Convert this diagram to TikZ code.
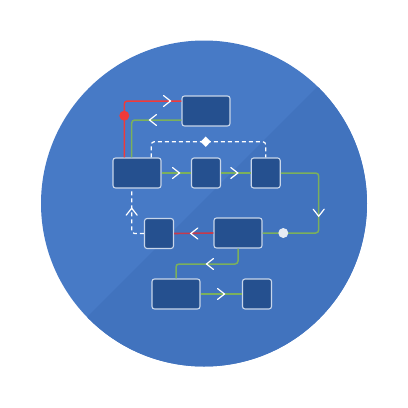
\documentclass[tikz,border=0pt]{standalone}
\usetikzlibrary{calc}
\definecolor{bglight}{HTML}{477AC6}
\definecolor{bgdark}{HTML}{4173BE}
\definecolor{boxfill}{HTML}{25508F}
\definecolor{boxline}{HTML}{C8D6EA}
\definecolor{redA}{HTML}{F03A3A}
\definecolor{redB}{HTML}{C63A4C}
\definecolor{greenl}{HTML}{7BB05C}
\definecolor{dotc}{HTML}{E6EBF2}
\tikzset{
  boxw/.style={draw=boxline, fill=boxfill, line width=1.1pt, rounded corners=2.5pt, minimum width=48pt, minimum height=30pt, inner sep=0pt},
  boxs/.style={boxw, minimum width=29pt},
  gline/.style={draw=greenl, line width=1.5pt, rounded corners=3pt},
  rline/.style={draw=redA, line width=1.5pt, rounded corners=3pt},
  rline2/.style={draw=redB, line width=1.6pt},
  dline/.style={draw=white, line width=1.2pt, dash pattern=on 4pt off 3pt, rounded corners=3pt},
  dotstyle/.style={circle, minimum size=10pt, inner sep=0pt},
  chev/.pic={\draw[white, line width=1.2pt, line cap=round, line join=miter] (-3.5,-5.5) -- (3.5,0) -- (-3.5,5.5);}
}
\begin{document}
\begin{tikzpicture}[x=1pt, y=-1pt]
\useasboundingbox (0,0) rectangle (408,408);
% background disk
\fill[bglight] (204,203.5) circle (163);
\begin{scope}
  \clip (204,203.5) circle (163);
  \fill[bgdark] (404,0) -- (500,0) -- (500,500) -- (0,500) -- (0,404) -- cycle;
\end{scope}
% boxes
\node[boxw] (T) at (206,111) {};
\node[boxw] (A) at (137,173) {};
\node[boxs] (B) at (206,173) {};
\node[boxs] (C) at (265.7,173) {};
\node[boxs] (D) at (159,233.5) {};
\node[boxw] (E) at (238,233) {};
\node[boxw] (F) at (176,294) {};
\node[boxs] (G) at (257,294) {};
% helper coordinates
\coordinate (rt) at (124.3,101);
\coordinate (gt) at (131.7,120);
\coordinate (dl) at (151.3,141.7);
\coordinate (cr) at (318.7,233);
\coordinate (dx) at (131.7,233.5);
\coordinate (ef) at (175.7,264);
\coordinate (dm) at (205.7,141.7);
% connectors
\draw[rline] (A.north -| rt) |- (T.west |- rt);
\draw[gline] (T.west |- gt) -| (A.north -| gt);
\draw[dline] (A.north -| dl) |- (C.north |- dl) -- (C.north);
\draw[gline] (A.east) -- (B.west);
\draw[gline] (B.east) -- (C.west);
\draw[gline] (C.east) -| (cr) -- (E.east);
\draw[rline2] (E.west) -- (D.east);
\draw[dline] (D.west) -| (A.south -| dx);
\draw[gline] (E.south) |- (F.north |- ef) -- (F.north);
\draw[gline] (F.east) -- (G.west);
% markers
\node[dotstyle, fill=redA] (rdot) at (124.3,115.7) {};
\node[dotstyle, fill=dotc] (wdot) at (283.3,233) {};
\fill[white] ($(dm)+(0,-5.2)$) -- ($(dm)+(5,0)$) -- ($(dm)+(0,5.2)$) -- ($(dm)+(-5,0)$) -- cycle;
% chevrons
\pic at (167,101) {chev};
\pic[rotate=180] at (153,120) {chev};
\pic at (176,173) {chev};
\pic at (234.3,173) {chev};
\pic[rotate=-90] at (318.7,212.7) {chev};
\pic[rotate=180] at (194.3,233.5) {chev};
\pic[rotate=90] at (131.7,211.7) {chev};
\pic[rotate=180] at (210,264) {chev};
\pic at (221,294) {chev};
\end{tikzpicture}
\end{document}
